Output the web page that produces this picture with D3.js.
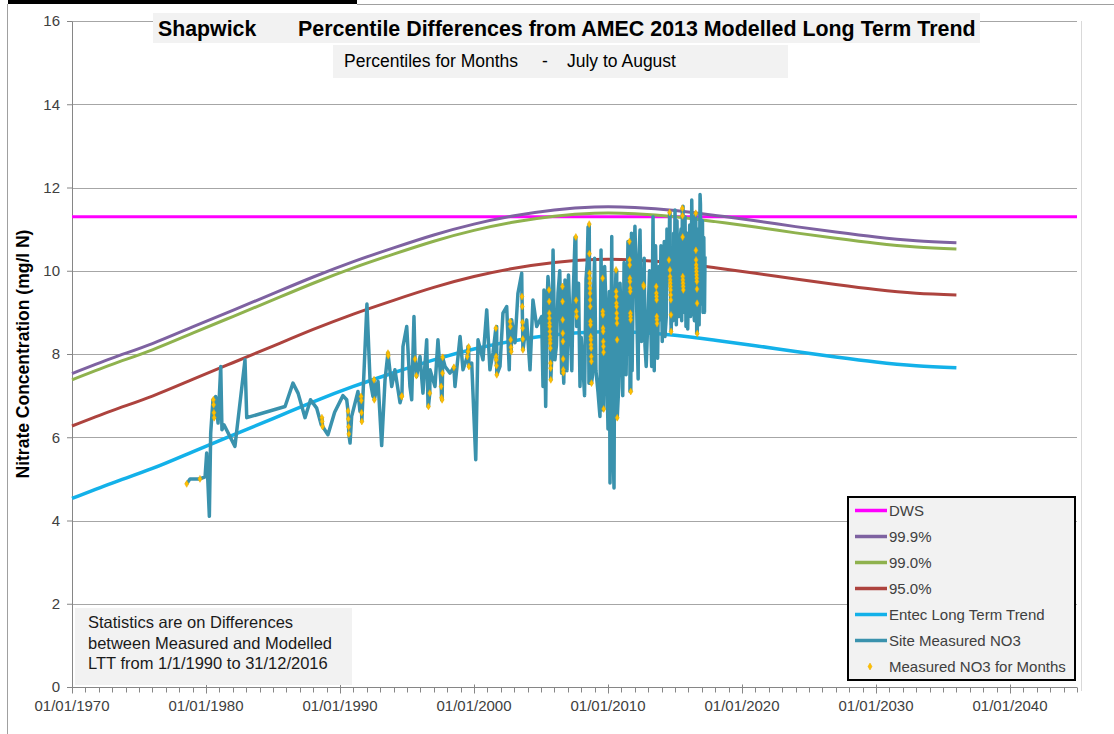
<!DOCTYPE html>
<html>
<head>
<meta charset="utf-8">
<script src="https://cdn.jsdelivr.net/npm/d3@7"></script>
<style>
  body { margin: 0; background: #fff; }
  svg text { font-family: "Liberation Sans", Arial, sans-serif; }
</style>
</head>
<body>
<svg id="chart" width="1114" height="734"></svg>
<script>
// ---- data ----
const curveYears = [1970, 1973, 1976, 1979, 1982, 1985, 1988, 1991, 1994, 1997, 2000, 2003,
  2006, 2009, 2012, 2015, 2018, 2021, 2024, 2027, 2030, 2033, 2036];
const ltt  = [4.53, 4.90, 5.25, 5.65, 6.05, 6.45, 6.85, 7.22, 7.55, 7.86, 8.12, 8.32,
  8.46, 8.53, 8.52, 8.45, 8.33, 8.20, 8.06, 7.93, 7.81, 7.72, 7.67];
const p999 = [7.53, 7.90, 8.25, 8.65, 9.05, 9.45, 9.85, 10.22, 10.55, 10.86, 11.12, 11.32,
  11.46, 11.53, 11.52, 11.45, 11.33, 11.20, 11.06, 10.93, 10.81, 10.72, 10.67];
const p990 = [7.38, 7.75, 8.10, 8.50, 8.90, 9.30, 9.70, 10.07, 10.40, 10.71, 10.97, 11.17,
  11.31, 11.38, 11.37, 11.30, 11.18, 11.05, 10.91, 10.78, 10.66, 10.57, 10.52];
const p950 = [6.27, 6.64, 6.99, 7.39, 7.79, 8.19, 8.59, 8.96, 9.29, 9.60, 9.86, 10.06,
  10.20, 10.27, 10.26, 10.19, 10.07, 9.94, 9.80, 9.67, 9.55, 9.46, 9.42];
const dwsYears = [1970, 2045];
const dws = [11.3, 11.3];

// site measured NO3 [decimal year, mg/l N]
const siteData = [
  [1978.56,4.88],[1978.81,5.0],[1979.55,5.0],[1979.93,5.05],[1980.05,5.62],[1980.25,4.1],[1980.35,6.1],
  [1980.52,6.9],[1980.72,6.98],[1980.9,6.34],[1981.1,7.7],[1981.19,6.18],[1981.34,6.3],[1982.16,5.78],
  [1982.91,7.86],[1983.04,6.47],[1985.9,6.74],[1986.49,7.3],[1986.87,7.06],[1987.39,6.47],[1987.8,6.9],
  [1988.26,6.7],[1988.6,6.3],[1989.1,6.06],[1989.6,6.6],[1990.22,7.0],[1990.5,6.9],[1990.75,5.86],
  [1990.87,6.5],[1991.34,7.1],[1991.49,6.62],[1992.01,9.2],[1992.24,7.38],[1992.46,6.98],[1992.84,7.34],
  [1993.11,5.8],[1993.36,7.38],[1993.58,8.03],[1993.86,7.22],[1994.1,7.62],[1994.48,6.83],[1994.7,8.18],
  [1994.98,8.66],[1995.22,7.22],[1995.35,6.9],[1995.52,8.9],[1995.72,7.46],[1995.97,7.94],[1996.19,7.06],
  [1996.47,8.34],[1996.57,6.74],[1996.72,7.62],[1997.09,7.22],[1997.31,8.34],[1997.59,6.9],[1997.84,7.7],
  [1998.21,7.54],[1998.58,7.22],[1998.96,8.42],[1999.18,7.62],[1999.55,8.18],[1999.83,7.78],[2000.13,5.46],
  [2000.3,8.34],[2000.67,7.86],[2000.95,9.06],[2001.19,7.62],[2001.42,8.03],[2001.69,8.66],[2001.94,7.7],
  [2002.16,8.98],[2002.44,9.14],[2002.63,7.62],[2002.81,8.82],[2003.06,8.27],[2003.28,9.46],[2003.56,9.94],
  [2003.66,8.1],[2003.93,8.82],[2004.18,7.62],[2004.4,9.3],[2004.68,8.66],[2005.05,8.9],[2005.15,7.22],
  [2005.22,9.54],[2005.35,6.74],[2005.45,9.2],[2005.52,9.86],[2005.72,7.38],[2005.8,7.9],[2005.9,10.5],
  [2006.04,7.86],[2006.15,8.2],[2006.27,9.46],[2006.4,10.0],[2006.54,7.54],[2006.7,7.3],[2006.79,9.78],
  [2006.94,7.6],[2007.05,9.9],[2007.16,8.82],[2007.3,7.6],[2007.39,9.3],[2007.54,10.8],[2007.66,8.66],
  [2007.8,9.7],[2007.91,7.22],[2008.0,8.4],[2008.13,7.7],[2008.25,7.0],[2008.36,9.8],[2008.45,10.2],
  [2008.51,11.05],[2008.58,7.3],[2008.85,7.5],[2008.88,9.0],[2009.0,10.3],[2009.1,7.6],[2009.25,7.1],
  [2009.4,6.5],[2009.48,10.5],[2009.55,8.0],[2009.63,6.66],[2009.75,10.1],[2009.85,9.2],[2009.95,7.0],
  [2010.0,6.2],[2010.1,9.5],[2010.15,4.9],[2010.28,10.82],[2010.35,6.0],[2010.45,4.78],[2010.5,9.0],
  [2010.65,10.0],[2010.67,6.47],[2010.8,7.2],[2010.9,9.7],[2011.02,8.34],[2011.1,7.0],[2011.2,10.2],
  [2011.27,9.6],[2011.35,7.5],[2011.49,10.7],[2011.55,8.0],[2011.64,7.1],[2011.75,10.9],[2011.8,7.6],
  [2011.87,9.4],[2012.01,11.07],[2012.1,9.9],[2012.16,8.8],[2012.25,7.4],[2012.3,10.2],[2012.39,10.98],
  [2012.5,8.3],[2012.61,9.7],[2012.7,10.3],[2012.76,8.2],[2012.85,7.7],[2012.99,8.98],[2013.1,10.0],
  [2013.2,8.6],[2013.26,7.7],[2013.36,11.3],[2013.45,7.6],[2013.55,10.6],[2013.64,9.78],[2013.7,7.9],
  [2013.8,10.1],[2013.88,8.82],[2013.95,10.6],[2014.05,8.3],[2014.1,9.8],[2014.2,10.7],[2014.25,8.42],
  [2014.35,8.9],[2014.4,11.0],[2014.48,10.43],[2014.63,11.4],[2014.7,8.7],[2014.78,9.2],[2014.85,8.8],
  [2014.9,10.9],[2014.95,9.5],[2015.0,11.46],[2015.1,8.7],[2015.15,11.2],[2015.22,8.98],[2015.3,8.9],
  [2015.4,10.8],[2015.45,11.0],[2015.5,8.8],[2015.6,11.55],[2015.7,9.0],[2015.75,11.3],[2015.82,8.66],
  [2015.9,10.9],[2015.95,8.6],[2016.04,10.2],[2016.1,11.1],[2016.15,8.9],[2016.2,9.1],[2016.25,11.7],
  [2016.3,10.5],[2016.4,9.0],[2016.45,8.8],[2016.5,11.2],[2016.62,8.5],[2016.7,9.2],[2016.75,11.0],
  [2016.8,8.7],[2016.87,11.83],[2016.9,11.6],[2016.95,9.2],[2017.0,9.4],[2017.05,11.2],[2017.09,9.0],
  [2017.15,10.8],[2017.2,9.0],[2017.24,10.34]
];

// July-August samples (also part of the measured series)
const monthData = [
  [1978.56,4.88],[1979.55,5.0],
  [1980.55,6.9],[1980.57,6.78],[1980.59,6.59],[1980.61,6.47],
  [1988.65,6.47],[1988.67,6.38],[1988.7,6.26],
  [1990.6,6.63],[1990.62,6.44],[1990.64,6.25],[1990.66,6.08],
  [1991.57,6.98],[1991.59,6.88],[1991.61,6.59],[1991.63,6.38],
  [1992.54,7.38],[1992.56,6.9],
  [1993.58,8.02],[1993.6,7.96],
  [1994.6,6.98],[1994.62,6.99],
  [1995.6,7.88],[1995.7,7.48],
  [1996.6,6.74],[1996.7,7.06],
  [1997.55,7.22],[1997.58,6.95],[1997.62,6.9],[1997.65,7.54],[1997.66,7.92],
  [1998.5,7.68],
  [1999.5,7.94],[1999.56,8.06],[1999.6,8.17],[1999.62,7.7],
  [2001.63,8.62],[2001.65,7.94],[2001.66,7.86],[2001.68,7.72],[2001.7,7.5],
  [2002.7,8.78],[2002.72,8.66],[2002.74,8.34],[2002.76,8.16],[2002.78,8.06],
  [2003.58,9.38],[2003.6,9.14],[2003.62,8.76],[2003.63,8.62],[2003.64,8.36],[2003.65,8.1],
  [2005.6,9.54],[2005.61,9.26],[2005.62,8.98],[2005.63,8.86],[2005.64,8.74],[2005.65,8.66],[2005.66,8.54],
  [2005.67,8.42],[2005.68,8.34],[2005.69,8.26],[2005.7,8.14],[2005.71,7.78],[2005.72,7.66],[2005.73,7.38],
  [2006.6,9.62],[2006.61,9.26],[2006.62,8.82],[2006.63,8.5],[2006.64,8.3],[2006.65,7.88],[2006.66,7.62],[2006.67,7.55],
  [2007.6,10.81],[2007.62,9.29],[2007.64,9.02],[2007.66,8.9],
  [2008.6,11.12],[2008.61,10.41],[2008.62,9.94],[2008.63,9.82],[2008.64,9.7],[2008.65,9.58],[2008.66,9.46],
  [2008.67,9.3],[2008.68,9.14],[2008.69,8.78],[2008.7,8.7],[2008.71,8.42],[2008.72,8.34],[2008.73,8.22],
  [2008.74,8.14],[2008.75,7.94],[2008.76,7.82],[2008.77,7.3],
  [2009.6,9.82],[2009.61,9.02],[2009.62,8.94],[2009.63,8.62],[2009.64,8.54],[2009.65,8.3],[2009.66,8.18],
  [2009.67,8.04],[2009.68,6.68],
  [2010.6,10.02],[2010.61,9.5],[2010.62,9.38],[2010.63,9.22],[2010.64,9.14],[2010.65,8.98],[2010.66,8.86],
  [2010.67,8.74],[2010.68,8.34],[2010.69,6.47],
  [2011.6,10.7],[2011.61,10.26],[2011.62,10.14],[2011.63,9.82],[2011.64,9.74],[2011.65,9.58],[2011.66,9.5],
  [2011.67,8.98],[2011.68,8.9],[2011.69,8.82],[2011.7,7.1],
  [2012.65,9.66],[2012.67,9.62],
  [2013.6,9.62],[2013.61,9.46],[2013.62,9.38],[2013.63,9.3],[2013.64,8.9],[2013.65,8.82],[2013.66,8.73],
  [2014.55,10.26],[2014.6,11.4],[2014.62,10.02],[2014.63,9.86],[2014.64,9.78],[2014.65,9.7],[2014.66,9.62],
  [2014.67,9.54],[2014.68,9.42],[2014.69,9.3],[2014.7,8.94],[2014.71,8.54],
  [2015.55,11.5],[2015.56,11.32],[2015.57,10.81],[2015.58,9.86],[2015.59,9.78],[2015.6,9.7],[2015.61,9.62],[2015.62,9.54],
  [2016.55,11.38],[2016.56,10.49],[2016.57,10.26],[2016.58,10.14],[2016.59,10.06],[2016.6,9.98],[2016.61,9.9],
  [2016.62,9.82],[2016.63,9.74],[2016.64,9.56],[2016.65,9.22],[2016.66,8.49]
];

const yTicks = [0, 2, 4, 6, 8, 10, 12, 14, 16];
const xTickYears = [1970, 1980, 1990, 2000, 2010, 2020, 2030, 2040];
const xTickLabels = ["01/01/1970", "01/01/1980", "01/01/1990", "01/01/2000",
  "01/01/2010", "01/01/2020", "01/01/2030", "01/01/2040"];
const legendNames = ["DWS", "99.9%", "99.0%", "95.0%", "Entec Long Term Trend", "Site Measured NO3", "Measured NO3 for Months"];
const legendColors = ["#ff00ff", "#7e62a1", "#8fb24e", "#ad433e", "#13b1e9", "#3a92ad", "#ffc000"];
const statLines = ["Statistics are on Differences", "between Measured and Modelled", "LTT from 1/1/1990 to 31/12/2016"];

// ---- drawing ----
const svg = d3.select("#chart");
const x = d3.scaleLinear().domain([1970, 2045]).range([72, 1077]);
const y = d3.scaleLinear().domain([0, 16]).range([687, 21]);

// page frame fragments
svg.append("rect").attr("x", 8).attr("y", 0).attr("width", 349).attr("height", 4).attr("fill", "#000");
svg.append("line").attr("x1", 357).attr("x2", 1114).attr("y1", 4.5).attr("y2", 4.5).attr("stroke", "#a0a0a0");
svg.append("line").attr("x1", 7.5).attr("x2", 7.5).attr("y1", 4).attr("y2", 734).attr("stroke", "#a0a0a0");

// gridlines
svg.append("g").selectAll("line").data(yTicks.filter(d => d > 0)).join("line")
  .attr("x1", x(1970)).attr("x2", x(2045))
  .attr("y1", d => Math.round(y(d)) + 0.5).attr("y2", d => Math.round(y(d)) + 0.5)
  .attr("stroke", "#a6a6a6").attr("stroke-width", 1);
svg.append("line").attr("x1", x(2045) + 4.5).attr("x2", x(2045) + 4.5)
  .attr("y1", y(16)).attr("y2", y(0) + 4).attr("stroke", "#d9d9d9");

// y axis
const yAxis = svg.append("g").attr("transform", `translate(${x(1970)},0)`)
  .call(d3.axisLeft(y).tickValues(yTicks).tickSize(5).tickSizeOuter(0).tickFormat(d3.format("d")));
yAxis.select(".domain").attr("stroke", "#868686");
yAxis.selectAll(".tick line").attr("stroke", "#868686");
yAxis.selectAll(".tick text").attr("font-size", 15).attr("fill", "#404040").attr("x", -12)
  .style("font-family", "'Liberation Sans', Arial, sans-serif");

// x axis: minor ticks each year, major each decade
const minorYears = d3.range(1970, 2046);
const xg = svg.append("g").attr("transform", `translate(0,${y(0) + 0.5})`);
xg.append("line").attr("x1", x(1970)).attr("x2", x(2045)).attr("stroke", "#868686");
xg.selectAll(".minor").data(minorYears).join("line").attr("class", "minor")
  .attr("x1", d => Math.round(x(d)) + 0.5).attr("x2", d => Math.round(x(d)) + 0.5)
  .attr("y1", 0).attr("y2", 5).attr("stroke", "#868686");
xg.selectAll(".major").data(xTickYears).join("line").attr("class", "major")
  .attr("x1", d => Math.round(x(d)) + 0.5).attr("x2", d => Math.round(x(d)) + 0.5)
  .attr("y1", -3).attr("y2", 6).attr("stroke", "#868686");
xg.selectAll("text").data(xTickYears).join("text")
  .attr("x", d => x(d)).attr("y", 23.5).attr("text-anchor", "middle")
  .attr("font-size", 15).attr("fill", "#404040").text((d, i) => xTickLabels[i]);

// axis title
svg.append("text").attr("transform", "translate(28.5,354) rotate(-90)")
  .attr("text-anchor", "middle").attr("font-size", 17.5).style("font-weight", "bold")
  .attr("fill", "#000").text("Nitrate Concentration (mg/l N)");

// title boxes
svg.append("rect").attr("x", 153).attr("y", 13).attr("width", 827).attr("height", 30).attr("fill", "#f2f2f2");
svg.append("text").attr("x", 158).attr("y", 36).attr("font-size", 21.3).style("font-weight", "bold").text("Shapwick");
svg.append("text").attr("x", 298).attr("y", 36).attr("font-size", 21.4).style("font-weight", "bold")
  .text("Percentile Differences from AMEC 2013 Modelled Long Term Trend");
svg.append("rect").attr("x", 333).attr("y", 45).attr("width", 455).attr("height", 33).attr("fill", "#f2f2f2");
const sub = svg.append("g").attr("font-size", 17.5).attr("fill", "#000");
sub.append("text").attr("x", 344).attr("y", 67).text("Percentiles for Months");
sub.append("text").attr("x", 542).attr("y", 67).text("-");
sub.append("text").attr("x", 567).attr("y", 67).text("July to August");

// statistics box
svg.append("rect").attr("x", 75).attr("y", 608).attr("width", 277).attr("height", 77).attr("fill", "#f2f2f2");
svg.append("g").selectAll("text").data(statLines).join("text")
  .attr("x", 88).attr("y", (d, i) => 628 + i * 20.5).attr("font-size", 16.5).attr("fill", "#1a1a1a").text(d => d);

// series
const smooth = d3.line().x(d => x(d[0])).y(d => y(d[1])).curve(d3.curveNatural);
const straight = d3.line().x(d => x(d[0])).y(d => y(d[1]));
const zipYears = (yrs, vals) => yrs.map((yr, i) => [yr, vals[i]]);

const series = [
  { pts: zipYears(dwsYears, dws), color: legendColors[0], w: 3 },
  { pts: zipYears(curveYears, p999), color: legendColors[1], w: 3 },
  { pts: zipYears(curveYears, p990), color: legendColors[2], w: 3 },
  { pts: zipYears(curveYears, p950), color: legendColors[3], w: 3 },
  { pts: zipYears(curveYears, ltt), color: legendColors[4], w: 3.5 }
];
svg.append("g").selectAll("path").data(series).join("path")
  .attr("d", d => smooth(d.pts)).attr("fill", "none")
  .attr("stroke", d => d.color).attr("stroke-width", d => d.w);

// measured series: all samples in date order
const allSamples = siteData.concat(monthData).slice().sort((a, b) => a[0] - b[0]);
svg.append("path").attr("d", straight(allSamples)).attr("fill", "none")
  .attr("stroke", legendColors[5]).attr("stroke-width", 3.5).attr("stroke-linejoin", "round");

const diamond = d3.symbol(d3.symbolDiamond).size(14);
svg.append("g").selectAll("path").data(monthData).join("path")
  .attr("transform", d => `translate(${x(d[0])},${y(d[1])})`)
  .attr("d", diamond).attr("fill", "#ffc000").attr("stroke", "#e9a800").attr("stroke-width", 0.5);

// legend
const lg = svg.append("g");
lg.append("rect").attr("x", 848).attr("y", 497).attr("width", 227).attr("height", 183)
  .attr("fill", "#f2f2f2").attr("stroke", "#000").attr("stroke-width", 2);
legendNames.forEach((name, i) => {
  const cy = 510.5 + i * 26;
  if (i < 6) {
    lg.append("line").attr("x1", 855).attr("x2", 887).attr("y1", cy).attr("y2", cy)
      .attr("stroke", legendColors[i]).attr("stroke-width", 3.5);
  } else {
    lg.append("path").attr("transform", `translate(870,${cy})`).attr("d", diamond)
      .attr("fill", "#ffc000").attr("stroke", "#e9a800").attr("stroke-width", 0.5);
  }
  lg.append("text").attr("x", 889).attr("y", cy + 5.5).attr("font-size", 15)
    .attr("fill", "#404040").text(name);
});
</script>
</body>
</html>
